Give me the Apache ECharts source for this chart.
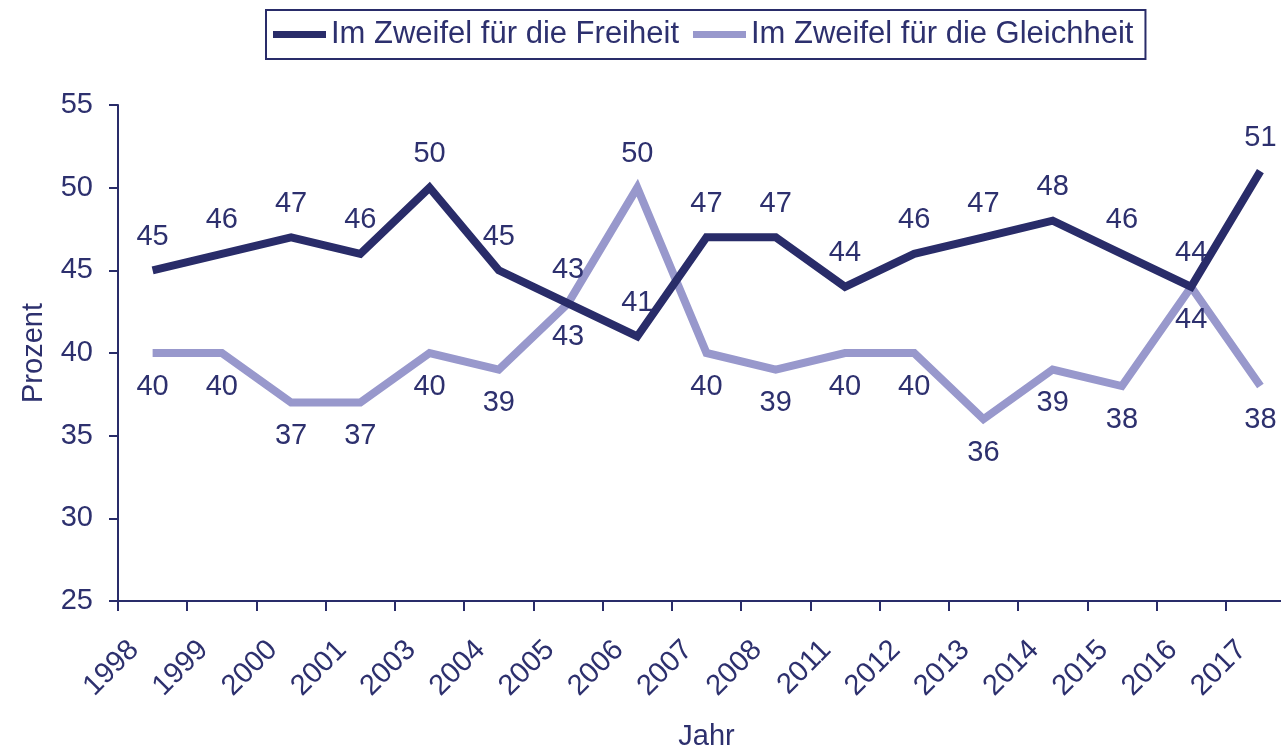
<!DOCTYPE html>
<html>
<head>
<meta charset="utf-8">
<style>
  html, body { margin: 0; padding: 0; background: #fff; }
  #chart { width: 1281px; height: 748px; }
</style>
<script src="https://cdn.jsdelivr.net/npm/echarts@6/dist/echarts.min.js"></script>
</head>
<body>
<div id="chart"></div>
<script>
// Daten
const years = ["1998", "1999", "2000", "2001", "2003", "2004", "2005", "2006", "2007",
               "2008", "2011", "2012", "2013", "2014", "2015", "2016", "2017"];
const freiheit = [45, 46, 47, 46, 50, 45, 43, 41, 47, 47, 44, 46, 47, 48, 46, 44, 51];
const gleichheit = [40, 40, 37, 37, 40, 39, 43, 50, 40, 39, 40, 40, 36, 39, 38, 44, 38];
const seriesNames = ["Im Zweifel für die Freiheit", "Im Zweifel für die Gleichheit"];

(function () {
    const dark = "#292c69";
    const light = "#9898cc";
    const textColor = "#2d306e";
    const font = "Liberation Sans, Arial, sans-serif";

    const myChart = echarts.init(document.getElementById("chart"));

    // Gleichheit-Labels unten, nur der Spitzenwert 2006 oben
    const gleichData = gleichheit.map(function (v, i) {
        if (years[i] === "2006") {
            return { value: v, label: { position: "top" } };
        }
        return v;
    });

    const option = {
        animation: false,
        textStyle: { fontFamily: font, color: textColor },
        legend: {
            left: 266,
            top: 10,
            padding: [9, 12, 9, 7],
            borderColor: dark,
            borderWidth: 2,
            icon: "rect",
            itemWidth: 53,
            itemHeight: 7,
            itemGap: 14,
            textStyle: { fontSize: 31, color: textColor, fontFamily: font },
            data: seriesNames
        },
        // Das Diagramm ist rechts abgeschnitten: letzte Kategorie reicht über den Rand
        grid: {
            left: 118,
            top: 105,
            width: 1177,
            height: 496,
            outerBoundsMode: "none"
        },
        xAxis: {
            type: "category",
            data: years,
            boundaryGap: true,
            name: "Jahr",
            nameLocation: "middle",
            nameGap: 121,
            nameTextStyle: { fontSize: 29, color: textColor, fontFamily: font },
            axisLine: { lineStyle: { color: dark, width: 2 } },
            axisTick: { show: true, length: 10, lineStyle: { color: dark, width: 2 } },
            axisLabel: {
                interval: 0,
                rotate: 45,
                margin: 26,
                padding: [0, 26, 0, 0],
                fontSize: 29,
                color: textColor,
                fontFamily: font
            }
        },
        yAxis: {
            type: "value",
            min: 25,
            max: 55,
            interval: 5,
            name: "Prozent",
            nameLocation: "middle",
            nameGap: 70,
            nameTextStyle: { fontSize: 29, color: textColor, fontFamily: font },
            axisLine: { show: true, lineStyle: { color: dark, width: 2 } },
            axisTick: { show: true, length: 9, lineStyle: { color: dark, width: 2 } },
            axisLabel: { margin: 25, fontSize: 29, color: textColor, fontFamily: font },
            splitLine: { show: false }
        },
        series: [
            {
                name: seriesNames[0],
                type: "line",
                data: freiheit,
                symbol: "circle",
                symbolSize: 0.1,
                showSymbol: true,
                color: dark,
                lineStyle: { color: dark, width: 8, join: "miter" },
                label: {
                    show: true,
                    position: "top",
                    distance: 19,
                    fontSize: 29,
                    color: textColor,
                    fontFamily: font
                },
                z: 3
            },
            {
                name: seriesNames[1],
                type: "line",
                data: gleichData,
                symbol: "circle",
                symbolSize: 0.1,
                showSymbol: true,
                color: light,
                lineStyle: { color: light, width: 8, join: "miter" },
                label: {
                    show: true,
                    position: "bottom",
                    distance: 19,
                    fontSize: 29,
                    color: textColor,
                    fontFamily: font
                },
                z: 2
            }
        ]
    };

    myChart.setOption(option);

    window.addEventListener("resize", function () {
        myChart.resize();
    });
})();
</script>
</body>
</html>
